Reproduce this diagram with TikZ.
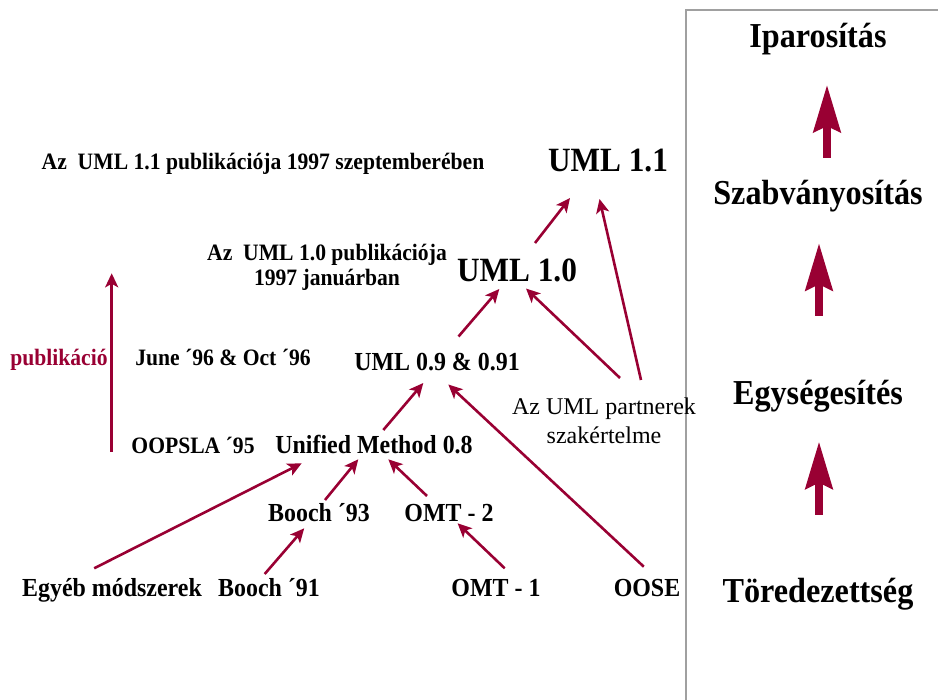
\documentclass[tikz,border=0pt]{standalone}
\usepackage{fontspec}
\usepackage{graphicx}
\setmainfont{Liberation Serif}
\usetikzlibrary{arrows.meta}
\definecolor{umlred}{HTML}{990033}
\definecolor{framegray}{HTML}{A0A0A0}
% narrow the glyphs a little
\newcommand{\sq}[1]{\scalebox{0.92}[1]{#1}}
\tikzset{
  note/.style={anchor=base, inner sep=0pt, font=\bfseries\fontsize{23.5}{25}\selectfont},
  stage/.style={anchor=base, inner sep=0pt, font=\bfseries\fontsize{26}{28}\selectfont},
  release/.style={anchor=base, inner sep=0pt, font=\bfseries\fontsize{34}{36}\selectfont},
  phase/.style={anchor=base, inner sep=0pt, font=\bfseries\fontsize{35}{37}\selectfont},
  flow/.style={draw=umlred, line width=2.6pt, -{Stealth[length=14pt,width=13pt,inset=3.5pt]}},
  fat/.style={draw=umlred, line width=7.5pt, -{Stealth[length=47pt,width=27pt,inset=6pt]}},
}
\begin{document}
\begin{tikzpicture}[x=1pt, y=-1pt]
\useasboundingbox (0,0) rectangle (938,700);

% frame of the maturity column
\draw[framegray, line width=1.5pt] (686,700) -- (686,10) -- (938,10);

% release notes
\node[note] (pub11) at (263,170) {\sq{Az\ \ UML 1.1 publikációja 1997 szeptemberében}};
\node[note, anchor=center, align=center] (pub10) at (327,267)
  {\sq{Az\ \ UML 1.0 publikációja}\\\sq{1997 januárban}};
\node[note, text=umlred] (publ) at (59,366) {\sq{publikáció}};
\node[note] (june) at (223,366) {\sq{June ´96 \& Oct ´96}};
\node[note] (oopsla) at (193,454) {\sq{OOPSLA ´95}};

% versions
\node[release] (uml11) at (608,172) {\sq{UML 1.1}};
\node[release] (uml10) at (517,282) {\sq{UML 1.0}};
\node[stage] (uml09) at (437,371) {\sq{UML 0.9 \& 0.91}};
\node[stage] (um08) at (374,454) {\sq{Unified Method 0.8}};
\node[stage] (booch93) at (319,522) {\sq{Booch ´93}};
\node[stage] (omt2) at (449,522) {\sq{OMT - 2}};
\node[stage] (egyeb) at (112,597) {\sq{Egyéb módszerek}};
\node[stage] (booch91) at (269,597) {\sq{Booch ´91}};
\node[stage] (omt1) at (496,597) {\sq{OMT - 1}};
\node[stage] (oose) at (647,597) {\sq{OOSE}};
\node[anchor=center, align=center, inner sep=0pt, font=\fontsize{24}{29}\selectfont]
  (partners) at (604,421) {Az UML partnerek\\szakértelme};

% phases
\node[phase] (ipar) at (818,48) {\sq{Iparosítás}};
\node[phase] (szab) at (818,205) {\sq{Szabványosítás}};
\node[phase] (egys) at (818,405) {\sq{Egységesítés}};
\node[phase] (tored) at (818,602) {\sq{Töredezettség}};

% publication timeline
\coordinate (pubA) at (111.7,451.7);
\coordinate (pubB) at (111.7,273.3);
\draw[flow] (pubA) -- (pubB);

% lineage
\draw[flow] ([shift={(18,-39)}]uml10.base) -- ([shift={(-38,26)}]uml11.base);
\draw[flow] ([shift={(37,-41)}]partners.center) -- ([shift={(-8.5,27)}]uml11.base);
\draw[flow] ([shift={(16,-43)}]partners.center) -- ([shift={(9,6.5)}]uml10.base);
\draw[flow] ([shift={(21.5,-34.5)}]uml09.base) -- ([shift={(-17.7,7)}]uml10.base);
\draw[flow] ([shift={(9.3,-24)}]um08.base) -- ([shift={(-13.7,12)}]uml09.base);
\draw[flow] ([shift={(-3.2,-30.3)}]oose.base) -- ([shift={(11.3,13.5)}]uml09.base);
\draw[flow] ([shift={(-17.8,-28.7)}]egyeb.base) -- ([shift={(-72.3,9.3)}]um08.base);
\draw[flow] ([shift={(6,-22)}]booch93.base) -- ([shift={(-15.7,5.3)}]um08.base);
\draw[flow] ([shift={(-22,-26)}]omt2.base) -- ([shift={(14.3,5.3)}]um08.base);
\draw[flow] ([shift={(-4.3,-23)}]booch91.base) -- ([shift={(-14.8,6.3)}]booch93.base);
\draw[flow] ([shift={(8.7,-28.7)}]omt1.base) -- ([shift={(8.6,1.3)}]omt2.base);

% phase arrows
\draw[fat] ([shift={(1,-87)}]tored.base) -- ([shift={(1,36.7)}]egys.base);
\draw[fat] ([shift={(1,-89.4)}]egys.base) -- ([shift={(1,38.3)}]szab.base);
\draw[fat] ([shift={(9,-47)}]szab.base) -- ([shift={(9,37)}]ipar.base);
\end{tikzpicture}
\end{document}
